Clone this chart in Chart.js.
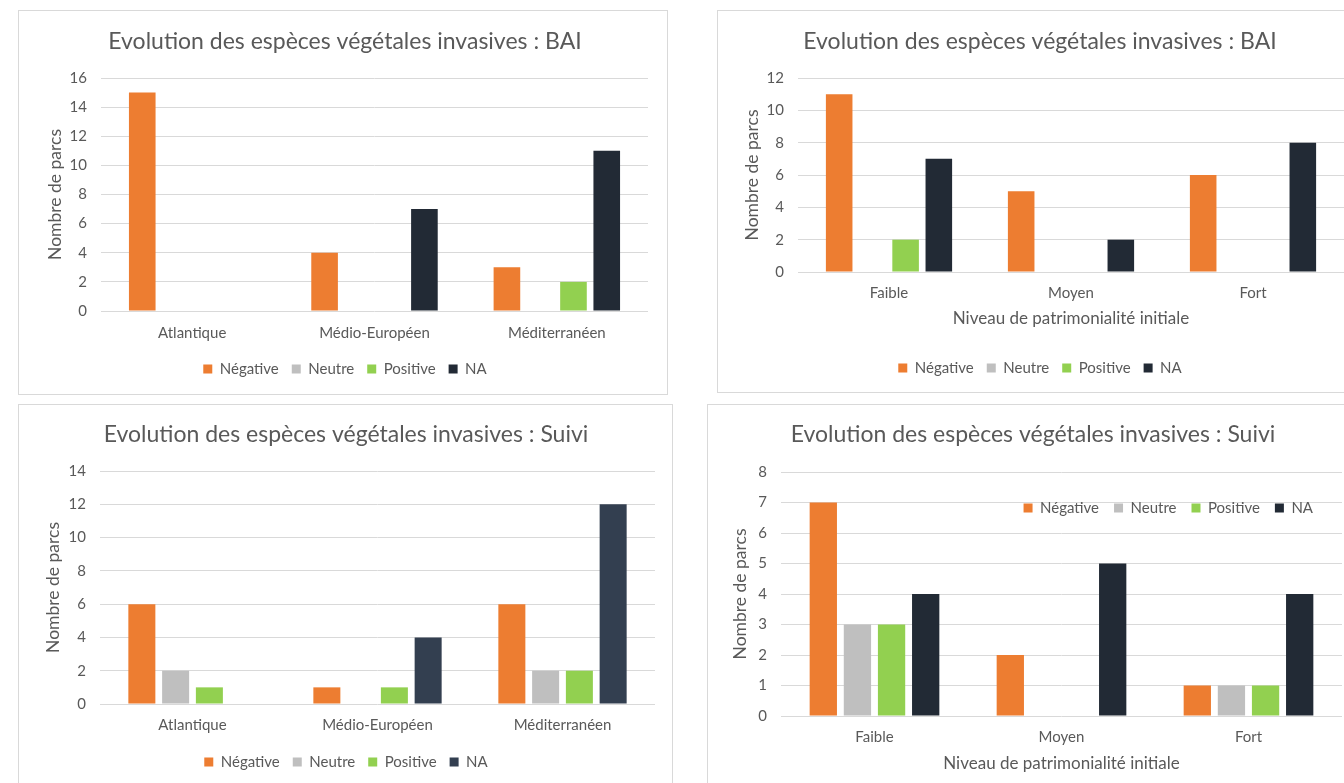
<!DOCTYPE html>
<html><head><meta charset="utf-8">
<script src="https://cdn.jsdelivr.net/npm/chart.js@4/dist/chart.umd.min.js"></script>
<style>
html,body{margin:0;padding:0;background:#fff;overflow:hidden;width:1344px;height:783px;}
.panel{position:absolute;box-sizing:border-box;border:1px solid #D9D9D9;background:#fff;overflow:hidden}
.panel canvas{position:absolute;left:-1px;top:-1px}
</style></head><body>
<div class="panel" style="left:18px;top:10px;width:650px;height:385px"><canvas id="c1" width="650" height="385"></canvas></div>
<div class="panel" style="left:717px;top:10px;width:647px;height:383px"><canvas id="c2" width="647" height="383"></canvas></div>
<div class="panel" style="left:18px;top:404px;width:655px;height:400px"><canvas id="c3" width="655" height="385"></canvas></div>
<div class="panel" style="left:707px;top:404px;width:652px;height:400px"><canvas id="c4" width="652" height="385"></canvas></div>
<script>
// ---- data ----
const seriesNames = ['Négative', 'Neutre', 'Positive', 'NA'];
const regions = ['Atlantique', 'Médio-Européen', 'Méditerranéen'];
const niveaux = ['Faible', 'Moyen', 'Fort'];

const titleBAI = 'Evolution des espèces végétales invasives : BAI';
const titleSuivi = 'Evolution des espèces végétales invasives : Suivi';
const yTitle = 'Nombre de parcs';
const xTitleNiveau = 'Niveau de patrimonialité initiale';

// BAI by region
const baiRegionNegative = [15, 4, 3];
const baiRegionNeutre   = [0, 0, 0];
const baiRegionPositive = [0, 0, 2];
const baiRegionNA       = [0, 7, 11];

// BAI by niveau
const baiNiveauNegative = [11, 5, 6];
const baiNiveauNeutre   = [0, 0, 0];
const baiNiveauPositive = [2, 0, 0];
const baiNiveauNA       = [7, 2, 8];

// Suivi by region
const suiviRegionNegative = [6, 1, 6];
const suiviRegionNeutre   = [2, 0, 2];
const suiviRegionPositive = [1, 1, 2];
const suiviRegionNA       = [0, 4, 12];

// Suivi by niveau
const suiviNiveauNegative = [7, 2, 1];
const suiviNiveauNeutre   = [3, 0, 1];
const suiviNiveauPositive = [3, 0, 1];
const suiviNiveauNA       = [4, 5, 4];

// ---- styling ----
const TXT = '#595959';
const GRID = '#D9D9D9';
Chart.defaults.font.family = 'Lato, "Open Sans", sans-serif';
Chart.defaults.color = TXT;

const insideLegend = {
  id: 'insideLegend',
  afterLayout(chart, args, opts) {
    if (!opts || !opts.enabled) return;
    const lg = chart.legend, ca = chart.chartArea;
    lg.left = ca.left;
    lg.right = ca.right - opts.dxRight;
    lg.top = ca.top + opts.dy;
    lg.bottom = lg.top + 45;
    lg.height = 45;
  }
};

function makeChart(id, cfg) {
  const colors = ['#ED7D31', '#BFBFBF', '#92D050', cfg.naColor];
  const datasets = cfg.series.map((vals, i) => ({
    label: seriesNames[i],
    data: vals,
    backgroundColor: colors[i],
    borderWidth: 0,
    categoryPercentage: 0.73,
    barPercentage: 0.8
  }));
  const inside = !!cfg.insideLegend;
  return new Chart(document.getElementById(id), {
    type: 'bar',
    data: { labels: cfg.categories, datasets },
    plugins: [insideLegend],
    options: {
      responsive: false,
      animation: false,
      devicePixelRatio: 1,
      layout: { padding: { left: cfg.padLeft, top: 0, right: cfg.padRight, bottom: cfg.padBottom } },
      plugins: {
        tooltip: { enabled: false },
        title: {
          display: true, text: cfg.title, color: TXT,
          font: { size: 23, weight: 'normal', lineHeight: 1.2 },
          padding: { top: cfg.titleTop, bottom: cfg.titleBottom }
        },
        legend: {
          display: true,
          position: inside ? 'top' : 'bottom',
          align: inside ? 'end' : 'center',
          maxHeight: inside ? 1 : undefined,
          labels: {
            boxWidth: 9, boxHeight: 9, padding: cfg.legendPad, color: TXT,
            font: { size: 15 }
          }
        },
        insideLegend: { enabled: inside, dy: cfg.legendDy || 0, dxRight: cfg.legendDxRight || 0 }
      },
      scales: {
        x: {
          grid: { display: false, drawTicks: false },
          border: { display: false },
          ticks: { color: TXT, font: { size: 15 }, padding: cfg.xTickPad, maxRotation: 0 },
          title: cfg.xTitle ? {
            display: true, text: cfg.xTitle, color: TXT,
            font: { size: 17, lineHeight: 1.2 },
            padding: { top: 0, bottom: cfg.xTitleBottom }
          } : { display: false },
          afterFit: (s) => { s.height = cfg.xHeight; }
        },
        y: {
          min: 0, max: cfg.yMax,
          grid: { color: GRID, lineWidth: 1, drawTicks: false },
          border: { display: false },
          ticks: { stepSize: cfg.yStep, color: TXT, font: { size: 15 }, padding: 14 },
          title: {
            display: true, text: yTitle, color: TXT,
            font: { size: 17.5, lineHeight: 1.2 },
            padding: { top: cfg.yTitleTop, bottom: 0 }
          },
          afterFit: (s) => { s.width = cfg.yWidth; }
        }
      }
    }
  });
}

makeChart('c1', {
  title: titleBAI, categories: regions,
  series: [baiRegionNegative, baiRegionNeutre, baiRegionPositive, baiRegionNA],
  naColor: '#222A35', yMax: 16, yStep: 2,
  titleTop: 18.2, titleBottom: 22.2, padLeft: 24, padRight: 20, padBottom: 8.5, legendPad: 13,
  xHeight: 37.5, xTickPad: 13, yWidth: 59, yTitleTop: 2.5
});

makeChart('c2', {
  title: titleBAI, categories: niveaux,
  series: [baiNiveauNegative, baiNiveauNeutre, baiNiveauPositive, baiNiveauNA],
  naColor: '#222A35', yMax: 12, yStep: 2,
  titleTop: 18.2, titleBottom: 22.2, padLeft: 19, padRight: 20, padBottom: 7.5, legendPad: 13,
  xHeight: 75.5, xTickPad: 12, xTitle: xTitleNiveau, xTitleBottom: 18.3,
  yWidth: 62, yTitleTop: 5.5
});

makeChart('c3', {
  title: titleSuivi, categories: regions,
  series: [suiviRegionNegative, suiviRegionNeutre, suiviRegionPositive, suiviRegionNA],
  naColor: '#333F50', yMax: 14, yStep: 2,
  titleTop: 17.2, titleBottom: 22.2, padLeft: 19, padRight: 18, padBottom: 9.5, legendPad: 13,
  xHeight: 37.5, xTickPad: 12, yWidth: 63, yTitleTop: 5.5
});

makeChart('c4', {
  title: titleSuivi, categories: niveaux,
  series: [suiviNiveauNegative, suiviNiveauNeutre, suiviNiveauPositive, suiviNiveauNA],
  naColor: '#222A35', yMax: 8, yStep: 1,
  titleTop: 17.2, titleBottom: 22.2, padLeft: 17, padRight: 17, padBottom: 0, legendPad: 15,
  xHeight: 73, xTickPad: 12, xTitle: xTitleNiveau, xTitleBottom: 14.8,
  yWidth: 57, yTitleTop: 5.5,
  insideLegend: true, legendDy: 13.5, legendDxRight: 14
});
</script>
</body></html>
